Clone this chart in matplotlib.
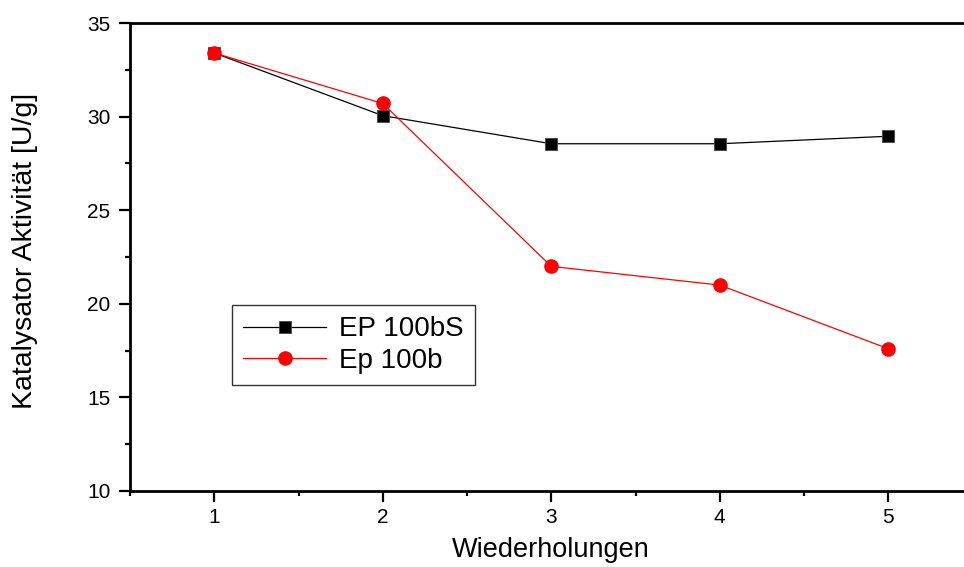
import matplotlib
matplotlib.use("Agg")
import matplotlib.pyplot as plt
from matplotlib.ticker import MultipleLocator

plt.rcParams['font.family'] = ['Liberation Sans', 'DejaVu Sans']

x = [1, 2, 3, 4, 5]
ep100bs = [33.4, 30.05, 28.55, 28.55, 28.95]
ep100b = [33.4, 30.7, 22.0, 21.0, 17.6]
labels = ["EP 100bS", "Ep 100b"]

fig = plt.figure(figsize=(9.64, 5.67), dpi=100)
ax = fig.add_axes([130/964, 76/567, 842.5/964, 468/567])

ax.plot(x, ep100bs, color='black', lw=0.9, marker='s', ms=9, mfc='black', mec='#444444', mew=0.6, label=labels[0])
ax.plot(x, ep100b, color='red', lw=0.9, marker='o', ms=9.5, mfc='red', mec='red', label=labels[1])

ax.set_xlim(0.5, 5.5)
ax.set_ylim(10, 35)
ax.xaxis.set_major_locator(MultipleLocator(1))
ax.xaxis.set_minor_locator(MultipleLocator(0.5))
ax.yaxis.set_major_locator(MultipleLocator(5))
ax.yaxis.set_minor_locator(MultipleLocator(2.5))

for s in ['left', 'bottom', 'top']:
    ax.spines[s].set_linewidth(2)
ax.spines['right'].set_visible(False)

ax.tick_params(axis='both', which='major', direction='out', length=8, width=1.6, labelsize=15)
ax.tick_params(axis='y', which='major', pad=6)
ax.tick_params(axis='x', which='major', pad=4)
ax.tick_params(axis='both', which='minor', direction='out', length=3.5, width=1.6)
ax.tick_params(axis='x', top=False)

ax.set_xlabel("Wiederholungen", fontsize=19.5)
ax.xaxis.set_label_coords(0.5, -0.098)
ax.set_ylabel("Katalysator Aktivität [U/g]", fontsize=20.5)
ax.yaxis.set_label_coords(-0.109, 0.513)

leg = ax.legend(loc='upper left', bbox_to_anchor=(0.121, 0.397), borderaxespad=0,
                fontsize=20, frameon=True, fancybox=False, edgecolor='black',
                handlelength=3.0, handletextpad=0.45, borderpad=0.4, labelspacing=0.2,
                markerscale=1.0)
leg.get_frame().set_linewidth(1.0)

fig.savefig("out.png", dpi=100)
